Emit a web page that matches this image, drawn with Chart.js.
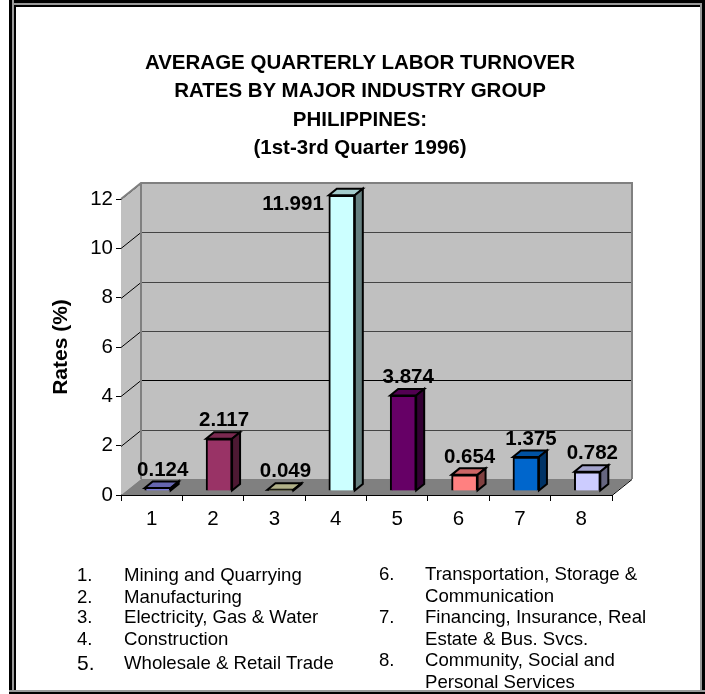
<!DOCTYPE html>
<html><head><meta charset="utf-8">
<script src="https://cdn.jsdelivr.net/npm/chart.js@4"></script>
<style>
html,body{margin:0;padding:0;background:#fff;overflow:hidden}
#wrap{position:relative;width:705px;height:694px;font-family:"Liberation Sans",Arial,sans-serif;color:#000}
#c{position:absolute;left:0;top:0}
.fr{position:absolute}
.n{position:absolute;font-size:18.6px;line-height:18px;white-space:nowrap}
.t{position:absolute;left:0;width:720px;text-align:center;font-weight:bold;font-size:20.5px;line-height:28px;white-space:nowrap}
</style></head><body>
<div id="wrap">
<canvas id="c" width="705" height="694"></canvas>
<div class="fr" style="left:9px;top:0;width:696px;height:3px;background:#000"></div>
<div class="fr" style="left:9px;top:3px;width:696px;height:2px;background:#999"></div>
<div class="fr" style="left:9px;top:0;width:3px;height:694px;background:#000"></div>
<div class="fr" style="left:12px;top:0;width:2px;height:694px;background:#999"></div>
<div class="fr" style="left:14px;top:5px;width:686px;height:2px;background:#000"></div>
<div class="fr" style="left:14px;top:5px;width:2px;height:689px;background:#000"></div>
<div class="fr" style="left:700px;top:3px;width:2px;height:691px;background:#999"></div>
<div class="fr" style="left:702px;top:0;width:3px;height:694px;background:#000"></div>
<div class="fr" style="left:9px;top:690px;width:696px;height:2px;background:#999"></div>
<div class="fr" style="left:9px;top:692px;width:696px;height:2px;background:#000"></div>
<div id="titleBox"></div>
<div id="notes"></div>
</div>
<script>
const categories = ['1','2','3','4','5','6','7','8'];
const rates = [0.124, 2.117, 0.049, 11.991, 3.874, 0.654, 1.375, 0.782];
const rateLabels = ['0.124','2.117','0.049','11.991','3.874','0.654','1.375','0.782'];
const barColors = ['#7C7CD8','#993366','#D8D8A8','#CCFFFF','#660066','#FF8080','#0066CC','#CCCCFF'];
const topColors = ['#6666B0','#7A2950','#B0B088','#A3CCCC','#520052','#CC6666','#0052A3','#A3A3CC'];
const sideColors = ['#3E3E6C','#4D1933','#6C6C54','#668080','#330033','#804040','#003366','#666680'];
const titleLines = ['AVERAGE QUARTERLY LABOR TURNOVER','RATES BY MAJOR INDUSTRY GROUP','PHILIPPINES:','(1st-3rd Quarter 1996)'];
const yTicks = [0,2,4,6,8,10,12];
const noteNumbers = ['1.','2.','3.','4.','5.','6.','7.','8.'];
const noteTexts = ['Mining and Quarrying','Manufacturing','Electricity, Gas & Water','Construction','Wholesale & Retail Trade',
  'Transportation, Storage &\nCommunication','Financing, Insurance, Real\nEstate & Bus. Svcs.','Community, Social and\nPersonal Services'];

const titleBox = document.getElementById('titleBox');
titleLines.forEach((line,i)=>{
  const d=document.createElement('div');d.className='t';d.textContent=line;
  d.style.top=(48+i*28.4)+'px';titleBox.appendChild(d);
});

const noteY = [566,588,608,630,654,565,608,651];
const notes = document.getElementById('notes');
noteTexts.forEach((t,i)=>{
  const nx = i<5 ? 77 : 379, tx = i<5 ? 124 : 425;
  const n = document.createElement('div'); n.className='n'; n.textContent=noteNumbers[i];
  n.style.left=nx+'px'; n.style.top=noteY[i]+'px'; if(i===4) n.style.fontSize='21px';
  notes.appendChild(n);
  t.split('\n').forEach((line,j)=>{
    const d=document.createElement('div'); d.className='n'; d.textContent=line;
    d.style.left=tx+'px'; d.style.top=(noteY[i]+j*21.5)+'px';
    notes.appendChild(d);
  });
});

const DX=20, DY=16;       // wall depth
const BX=6, BY=4;         // bar position in depth
const TX=8, TY=6.5;       // bar depth

const walls3d = {
  id:'walls3d',
  beforeDatasetsDraw(chart){
    const {ctx, chartArea:a, scales:{y}} = chart;
    ctx.save();
    ctx.fillStyle='#C0C0C0';
    ctx.fillRect(a.left+DX,a.top-DY,a.right-a.left,a.bottom-a.top);
    ctx.beginPath();ctx.moveTo(a.left,a.top);ctx.lineTo(a.left+DX,a.top-DY);ctx.lineTo(a.left+DX,a.bottom-DY);ctx.lineTo(a.left,a.bottom);ctx.closePath();ctx.fill();
    ctx.fillStyle='#808080';
    ctx.beginPath();ctx.moveTo(a.left,a.bottom);ctx.lineTo(a.left+DX,a.bottom-DY);ctx.lineTo(a.right+DX,a.bottom-DY);ctx.lineTo(a.right,a.bottom);ctx.closePath();ctx.fill();
    ctx.lineWidth=1;
    yTicks.forEach(v=>{
      if(v===0) return;
      const py=Math.round(y.getPixelForValue(v));
      ctx.strokeStyle='#000';
      ctx.beginPath();ctx.moveTo(a.left,py+.5);ctx.lineTo(a.left+DX,py-DY+.5);ctx.stroke();
      if(v===12) return;
      ctx.strokeStyle=v===4?'#000':'#444';
      ctx.beginPath();ctx.moveTo(a.left+DX,py-DY+.5);ctx.lineTo(a.right+DX,py-DY+.5);ctx.stroke();
    });
    ctx.strokeStyle='#808080';ctx.lineWidth=2;
    ctx.beginPath();ctx.moveTo(a.left,a.top);ctx.lineTo(a.left+DX,a.top-DY);ctx.lineTo(a.right+DX,a.top-DY);ctx.lineTo(a.right+DX,a.bottom-DY);
    ctx.moveTo(a.left+DX,a.top-DY);ctx.lineTo(a.left+DX,a.bottom-DY);ctx.stroke();
    ctx.strokeStyle='#000';ctx.lineWidth=1;
    ctx.beginPath();ctx.moveTo(a.right,a.bottom+.5);ctx.lineTo(a.right+DX,a.bottom-DY+.5);ctx.stroke();
    ctx.translate(BX,-BY);
    ctx.strokeStyle='#000';ctx.lineWidth=2;ctx.lineJoin='miter';
    chart.getDatasetMeta(0).data.forEach((b,i)=>{
      const p=b.getProps(['x','y','base','width']);
      const l=p.x-p.width/2,r=p.x+p.width/2;
      ctx.fillStyle=topColors[i];
      ctx.beginPath();ctx.moveTo(l,p.y);ctx.lineTo(l+TX,p.y-TY);ctx.lineTo(r+TX,p.y-TY);ctx.lineTo(r,p.y);ctx.closePath();ctx.fill();ctx.stroke();
      ctx.fillStyle=sideColors[i];
      ctx.beginPath();ctx.moveTo(r,p.y);ctx.lineTo(r+TX,p.y-TY);ctx.lineTo(r+TX,p.base-TY);ctx.lineTo(r,p.base);ctx.closePath();ctx.fill();ctx.stroke();
    });
    ctx.restore();
    ctx.save();
    ctx.translate(BX,-BY);
  },
  afterDatasetsDraw(chart){
    const {ctx}=chart;
    ctx.restore();
    ctx.save();
    ctx.fillStyle='#000';
    ctx.font='bold 20.5px "Liberation Sans",Arial,sans-serif';
    ctx.textAlign='center';ctx.textBaseline='middle';
    chart.getDatasetMeta(0).data.forEach((b,i)=>{
      const p=b.getProps(['x','y','width']);
      if(i===3){
        ctx.textAlign='right';
        ctx.fillText(rateLabels[i],p.x+BX-p.width/2-5,p.y-BY+9);
        ctx.textAlign='center';
      } else {
        ctx.fillText(rateLabels[i],p.x+BX+5,p.y-BY-18);
      }
    });
    ctx.restore();
  }
};

new Chart(document.getElementById('c'),{
  type:'bar',
  data:{labels:categories,datasets:[{
    data:rates,backgroundColor:barColors,borderColor:'#000',borderWidth:2,
    barThickness:26
  }]},
  options:{
    responsive:false,animation:false,
    layout:{padding:{left:0,right:93,top:199,bottom:139}},
    plugins:{legend:{display:false},tooltip:{enabled:false},title:{display:false}},
    scales:{
      x:{position:'bottom',afterFit(s){s.height=60;},
        grid:{display:true,drawOnChartArea:false,drawTicks:true,tickLength:6,color:'#000',offset:true},
        border:{display:true,color:'#000',width:1},
        ticks:{color:'#000',padding:6,font:{family:'"Liberation Sans",Arial,sans-serif',size:20.5},maxRotation:0}},
      y:{min:0,max:12,afterFit(s){s.width=121;},
        title:{display:true,text:'Rates (%)',color:'#000',font:{family:'"Liberation Sans",Arial,sans-serif',size:21,weight:'bold'},padding:{top:49,bottom:0}},
        grid:{display:true,drawOnChartArea:false,drawTicks:true,tickLength:5,color:'#000'},
        border:{display:true,color:'#000',width:1},
        ticks:{stepSize:2,color:'#000',padding:3,font:{family:'"Liberation Sans",Arial,sans-serif',size:20.5}}}
    }
  },
  plugins:[walls3d]
});
</script>
</body></html>
